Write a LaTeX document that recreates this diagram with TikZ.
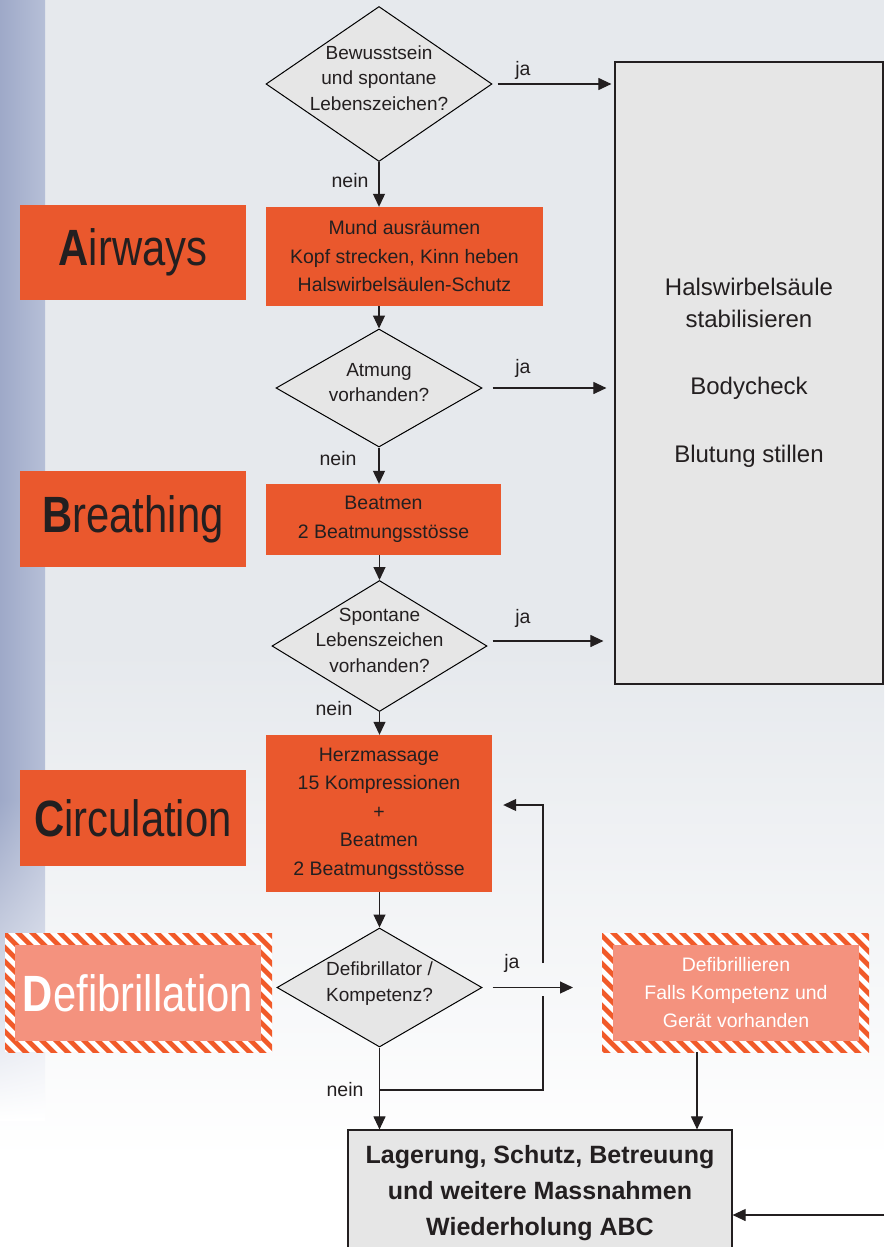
\documentclass[tikz,border=0pt]{standalone}
\usepackage{fontspec}
\setmainfont{Liberation Sans}
\usepackage{graphicx}
\usetikzlibrary{shapes.geometric,arrows.meta,patterns.meta,shadings}
\definecolor{orn}{HTML}{EA582D}
\definecolor{salmon}{HTML}{F4927E}
\definecolor{hatch}{HTML}{F15A29}
\definecolor{boxgray}{HTML}{E6E6E6}
\definecolor{ink}{HTML}{231F20}
\definecolor{bggray}{HTML}{E6E9ED}
\definecolor{stripA}{HTML}{9EA9C8}
\definecolor{stripB}{HTML}{B6BFD7}
\newcommand\diatext[1]{\smash{\makebox[0pt]{\begin{tabular}{@{}c@{}}#1\end{tabular}}}}
\newcommand\biglabel[2]{\scalebox{0.82}[1]{\textbf{#1}#2}}
\begin{document}
\begin{tikzpicture}[x=1pt,y=-1pt,
  small/.style={font=\fontsize{19.5}{28}\selectfont, text=ink, inner sep=0pt},
  dia/.style={diamond, draw=black, line width=1pt, fill=boxgray, inner sep=0pt,
    font=\fontsize{19}{25.5}\selectfont, text=ink},
  obox/.style={rectangle, fill=orn, inner sep=0pt, align=center,
    font=\fontsize{19.5}{28.5}\selectfont, text=ink},
  sbox/.style={rectangle, fill=salmon, inner sep=0pt, align=center,
    font=\fontsize{19.5}{28}\selectfont, text=white},
  big/.style={font=\fontsize{51}{60}\selectfont},
  hatchbox/.style={rectangle, inner sep=0pt, preaction={fill=white},
    pattern={Lines[angle=-45,distance=10.5pt,line width=5.2pt]}, pattern color=hatch},
  gbox/.style={rectangle, draw=ink, line width=1.2pt, fill=boxgray, inner sep=0pt,
    align=center, text=ink},
  arr/.style={-{Triangle[length=13pt,width=12pt]}, line width=1.1pt, draw=ink},
  ln/.style={line width=1.1pt, draw=ink}]
\useasboundingbox (0,0) rectangle (884,1247);
\clip (0,0) rectangle (884,1247);
% background
\fill[white] (0,0) rectangle (884,1247);
\fill[bggray] (0,0) rectangle (884,650);
\shade[top color=bggray, bottom color=white] (0,650) rectangle (884,1160);
\shade[left color=stripA, right color=stripB] (0,0) rectangle (45,800);
\shade[upper left=stripA, upper right=stripB, lower left=white, lower right=white] (0,800) rectangle (45,1120);
% nodes
\node[dia, minimum width=226pt, minimum height=155pt] (d1) at (379,84) {\diatext{Bewusstsein\\und spontane\\Lebenszeichen?}};
\node[gbox, minimum width=268pt, minimum height=622pt, font=\fontsize{24}{32}\selectfont] (rbox) at (749,373)
  {Halswirbelsäule\\stabilisieren\\[35pt]Bodycheck\\[36pt]Blutung stillen};
\node[obox, big, minimum width=226pt, minimum height=95pt] (airL) at (133,252.5) {\biglabel{A}{irways}};
\node[obox, minimum width=277pt, minimum height=99pt] (mund) at (404.5,256.5) {Mund ausräumen\\Kopf strecken, Kinn heben\\Halswirbelsäulen-Schutz};
\node[dia, minimum width=206pt, minimum height=118pt] (d2) at (379,388) {\diatext{Atmung\\vorhanden?}};
\node[obox, big, minimum width=226pt, minimum height=96pt] (brL) at (133,519) {\biglabel{B}{reathing}};
\node[obox, minimum width=235pt, minimum height=71pt] (beat) at (383.5,519.5) {Beatmen\\2 Beatmungsstösse};
\node[dia, minimum width=215pt, minimum height=131pt] (d3) at (379.5,646) {\diatext{Spontane\\Lebenszeichen\\vorhanden?}};
\node[obox, big, minimum width=226pt, minimum height=96pt] (ciL) at (133,818) {\biglabel{C}{irculation}};
\node[obox, minimum width=226pt, minimum height=157pt] (herz) at (379,813.5) {Herzmassage\\15 Kompressionen\\+\\Beatmen\\2 Beatmungsstösse};
\node[dia, minimum width=205pt, minimum height=119pt] (d4) at (379.5,987.5) {\diatext{Defibrillator /\\Kompetenz?}};
\node[hatchbox, minimum width=267pt, minimum height=119pt] (deLo) at (138.5,992.5) {};
\node[sbox, big, minimum width=246pt, minimum height=96pt] (deL) at (138,993) {\biglabel{D}{efibrillation}};
\node[hatchbox, minimum width=267pt, minimum height=119pt] (defo) at (735.5,992.5) {};
\node[sbox, minimum width=246pt, minimum height=96pt] (defi) at (736,993) {Defibrillieren\\Falls Kompetenz und\\Gerät vorhanden};
\node[gbox, minimum width=384pt, minimum height=126pt, font=\fontsize{25}{36}\selectfont\bfseries] (bot) at (540,1193)
  {Lagerung, Schutz, Betreuung\\und weitere Massnahmen\\Wiederholung ABC};
% labels
\node[small] (ja1) at (523,70) {ja};
\node[small] (ne1) at (350,181) {nein};
\node[small] (ja2) at (523,368) {ja};
\node[small] (ne2) at (338,459) {nein};
\node[small] (ja3) at (523,618) {ja};
\node[small] (ne3) at (334,709) {nein};
\node[small] (ja4) at (512,963) {ja};
\node[small] (ne4) at (345,1090) {nein};
% connectors
\draw[arr] ([xshift=5pt]d1.east) -- ([xshift=-3pt]d1.east -| rbox.west);
\draw[arr] (d1.south) -- (d1.south |- mund.north);
\draw[arr] (d2.north |- mund.south) -- (d2.north);
\draw[arr] ([xshift=10pt]d2.east) -- ([xshift=-8pt]d2.east -| rbox.west);
\draw[arr] (d2.south) -- (d2.south |- beat.north);
\draw[arr] (d3.north |- beat.south) -- (d3.north);
\draw[arr] ([xshift=5pt,yshift=5pt]d3.east) -- ([xshift=-11pt,yshift=5pt]d3.east -| rbox.west);
\draw[arr] (d3.south) -- (d3.south |- herz.north);
\draw[arr] (d4.north |- herz.south) -- (d4.north);
\coordinate (d4ja) at (573,987.5);
\draw[arr] ([xshift=10pt]d4.east) -- (d4ja);
\draw[arr] (d4.south) -- (d4.south |- bot.north);
\coordinate (lj) at (379.5,1090);
\coordinate (lc) at (543,1090);
\coordinate (lg1) at (543,996);
\coordinate (lg2) at (543,963);
\coordinate (lt) at (543,805);
\draw[ln] (lj) -- (lc) -- (lg1);
\draw[arr] (lg2) -- (lt) -- ([xshift=11pt]herz.east |- lt);
\draw[arr] ([xshift=-38.5pt]defo.south) -- ([xshift=-38.5pt]defo.south |- bot.north);
\coordinate (re) at (884,1215);
\draw[arr] (re) -- (re -| bot.east);
\end{tikzpicture}
\end{document}
